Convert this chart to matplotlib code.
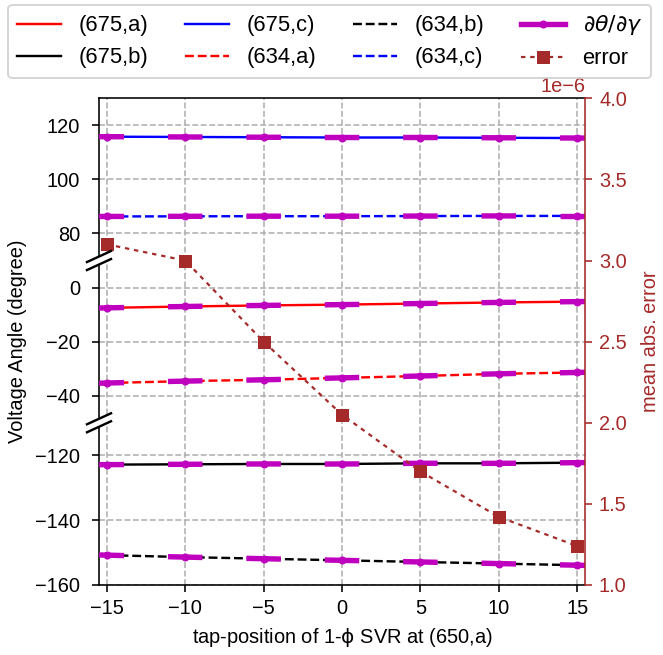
import numpy as np
import matplotlib
matplotlib.use('Agg')
import matplotlib.pyplot as plt
from matplotlib.lines import Line2D
from matplotlib.patches import Polygon

plt.rcParams['font.family'] = ['Liberation Sans', 'DejaVu Sans']
plt.rcParams['font.size'] = 10
plt.rcParams['mathtext.fontset'] = 'dejavusans'

# ---------------- data ----------------
taps = [-15, -10, -5, 0, 5, 10, 15]
ang_675a = [-7.5, -7.0, -6.6, -6.3, -5.9, -5.5, -5.2]
ang_675b = [-122.9, -122.8, -122.7, -122.7, -122.5, -122.5, -122.3]
ang_675c = [115.8, 115.7, 115.6, 115.5, 115.5, 115.4, 115.3]
ang_634a = [-35.3, -34.6, -34.1, -33.4, -32.7, -31.9, -31.4]
ang_634b = [-150.8, -151.4, -151.9, -152.4, -152.9, -153.4, -153.9]
ang_634c = [86.3, 86.35, 86.4, 86.4, 86.45, 86.5, 86.5]
err_vals = [3.1, 3.0, 2.5, 2.05, 1.7, 1.42, 1.24]   # x 1e-6
err_scale = 1e-6

labels = ['(675,a)', '(675,b)', '(675,c)', '(634,a)', '(634,b)', '(634,c)']
series = [ang_675a, ang_675b, ang_675c, ang_634a, ang_634b, ang_634c]
colors = ['red', 'black', 'blue', 'red', 'black', 'blue']
styles = ['-', '-', '-', '--', '--', '--']

ylims = [(70, 130), (-50, 10), (-160, -110)]
yticks = [[80, 100, 120], [-40, -20, 0], [-160, -140, -120]]
xticks = [-15, -10, -5, 0, 5, 10, 15]

# ---------------- figure ----------------
W, H, dpi = 663, 655, 144
fig = plt.figure(figsize=(W / dpi, H / dpi), dpi=dpi)

L = 99 / W
R = 585 / W
T = 1 - 98.3 / H
B = 1 - 585 / H
h = (T - B) / 3

ax_top = fig.add_axes([L, B + 2 * h, R - L, h])
ax_mid = fig.add_axes([L, B + h, R - L, h], sharex=ax_top)
ax_bot = fig.add_axes([L, B, R - L, h], sharex=ax_top)
axs = [ax_top, ax_mid, ax_bot]

x = np.array(taps, dtype=float)
half = 1.1
main_handles = []
for ax in axs:
    hs = []
    for lab, y, c, ls in zip(labels, series, colors, styles):
        ln, = ax.plot(x, y, color=c, ls=ls, lw=1.2, label=lab, zorder=2)
        hs.append(ln)
        yy = np.array(y, dtype=float)
        slope = np.gradient(yy, x)
        for xi, yi, s in zip(x, yy, slope):
            ax.plot([xi - half, xi + half], [yi - half * s, yi + half * s],
                    color='m', lw=2.7, solid_capstyle='butt', zorder=3)
        ax.plot(x, yy, ls='none', marker='.', ms=6, color='m', zorder=4)
    if not main_handles:
        main_handles = hs

for ax, yl, yt in zip(axs, ylims, yticks):
    ax.set_ylim(*yl)
    ax.set_yticks(yt)
    ax.set_xlim(-15.5, 15.5)
    ax.set_xticks(xticks)
    ax.grid(True, ls='--', color='#b0b0b0', lw=0.8)
    ax.spines['right'].set_visible(False)
    ax.set_axisbelow(True)
    ax.tick_params(axis='y', pad=6)

ax_top.spines['bottom'].set_visible(False)
ax_mid.spines['top'].set_visible(False)
ax_mid.spines['bottom'].set_visible(False)
ax_bot.spines['top'].set_visible(False)
for ax in (ax_top, ax_mid):
    ax.tick_params(axis='x', which='both', bottom=False, labelbottom=False)

ax_bot.set_xlabel('tap-position of 1-$\\mathrm{\\phi}$ SVR at (650,a)')

# ---------------- error axis ----------------
ax2 = fig.add_axes([L, B, R - L, T - B])
ax2.patch.set_visible(False)
err_line, = ax2.plot(x, np.array(err_vals) * err_scale, color='brown',
                     ls=(0, (2, 2.2)), lw=1.1, dash_capstyle='butt',
                     marker='s', ms=5.5, label='error', zorder=5)
ax2.set_xlim(-15.5, 15.5)
ax2.set_ylim(1.0 * err_scale, 4.0 * err_scale)
ax2.set_yticks(np.array([1.0, 1.5, 2.0, 2.5, 3.0, 3.5, 4.0]) * err_scale)
ax2.xaxis.set_visible(False)
ax2.yaxis.tick_right()
for sp in ('left', 'top', 'bottom'):
    ax2.spines[sp].set_visible(False)
ax2.spines['right'].set_color('brown')
ax2.tick_params(axis='y', colors='brown')
ax2.yaxis.get_offset_text().set_color('brown')

fig.text(650 / W, (T + B) / 2, 'mean abs. error', rotation=90, color='brown',
         ha='center', va='center')
fig.text(18 / W, (T + B) / 2, 'Voltage Angle (degree)', rotation=90,
         ha='center', va='center')

# ---------------- break marks ----------------
px, py = 1 / W, 1 / H
for yb in (B + h, B + 2 * h):
    poly = Polygon([(L - 12 * px, yb - 4 * py - 5.5 * py),
                    (L + 12 * px, yb - 4 * py + 5.5 * py),
                    (L + 12 * px, yb + 4 * py + 5.5 * py),
                    (L - 12 * px, yb + 4 * py - 5.5 * py)],
                   closed=True, transform=fig.transFigure, facecolor='white',
                   edgecolor='none', zorder=5)
    fig.add_artist(poly)
    for off in (-4, 4):
        yc = yb + off * py
        fig.add_artist(Line2D([L - 12 * px, L + 12 * px],
                              [yc - 5.5 * py, yc + 5.5 * py],
                              transform=fig.transFigure, color='black',
                              lw=1.2, zorder=6))

# ---------------- legend ----------------
deriv_handle = Line2D([], [], color='m', lw=2.7, marker='.', ms=6)
handles = main_handles + [deriv_handle, err_line]
leg_labels = labels + ['$\\partial\\theta/\\partial\\gamma$', 'error']
fig.legend(handles, leg_labels, loc='upper left',
           bbox_to_anchor=(0.0128, 0.0, 0.969, 0.993), mode='expand',
           ncol=4, borderaxespad=0, fontsize=11, handlelength=2.0)

fig.savefig('out.png', dpi=dpi)
